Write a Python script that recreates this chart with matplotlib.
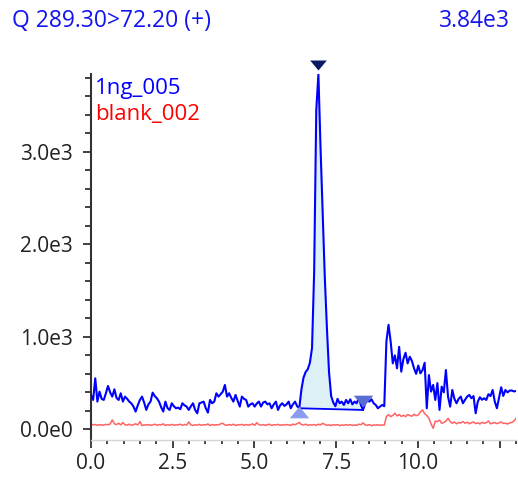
import numpy as np
import matplotlib
matplotlib.use("Agg")
import matplotlib.pyplot as plt
import matplotlib.ticker as ticker
from matplotlib.transforms import offset_copy

plt.rcParams['font.family'] = ['Open Sans', 'DejaVu Sans']

# retention time grid (min) and the two traces
times = np.linspace(0, 13.0, 201)

sample_1ng = [
    372, 318, 552, 300, 408, 330, 318, 390, 469, 400,
    354, 433, 340, 318, 390, 300, 354, 330, 300, 280,
    246, 192, 260, 318, 354, 290, 210, 270, 300, 397,
    360, 336, 300, 240, 192, 300, 230, 210, 282, 250,
    228, 235, 218, 282, 260, 246, 210, 250, 282, 210,
    174, 282, 290, 300, 230, 181, 318, 282, 300, 390,
    354, 380, 408, 480, 354, 390, 340, 300, 372, 310,
    246, 354, 330, 318, 246, 270, 282, 246, 280, 300,
    246, 290, 300, 270, 282, 228, 270, 300, 210, 260,
    282, 253, 270, 300, 228, 270, 300, 250, 228, 430,
    560, 620, 650, 720, 880, 1700, 3450, 3840, 3050, 2350,
    1650, 1100, 620, 360, 290, 250, 330, 282, 300, 264,
    318, 282, 325, 270, 300, 282, 340, 264, 210, 280,
    318, 300, 325, 282, 264, 228, 246, 264, 250, 950,
    1130, 950, 713, 800, 660, 892, 624, 760, 828, 713,
    785, 740, 660, 600, 690, 605, 640, 720, 228, 587,
    408, 480, 318, 500, 210, 462, 400, 641, 354, 246,
    426, 330, 282, 330, 354, 282, 320, 354, 372, 336,
    360, 174, 300, 347, 320, 336, 318, 380, 360, 426,
    300, 228, 340, 455, 361, 426, 400, 419, 420, 410,
    415,
]

blank_002 = [
    60, 48, 52, 44, 50, 48, 46, 54, 50, 58,
    102, 60, 52, 66, 48, 74, 50, 46, 56, 44,
    50, 60, 48, 84, 40, 50, 46, 52, 44, 48,
    56, 44, 52, 48, 60, 42, 50, 46, 54, 44,
    50, 48, 56, 44, 52, 46, 80, 48, 42, 50,
    46, 54, 44, 50, 48, 58, 42, 52, 46, 50,
    48, 60, 66, 48, 44, 52, 46, 56, 42, 50,
    48, 54, 44, 52, 46, 50, 60, 44, 72, 50,
    46, 52, 44, 50, 56, 42, 50, 48, 54, 44,
    50, 46, 52, 48, 44, 56, 50, 62, 74, 52,
    48, 56, 44, 50, 46, 52, 44, 56, 48, 66,
    54, 44, 48, 42, 50, 46, 52, 40, 48, 44,
    50, 46, 52, 42, 48, 44, 56, 50, 70, 48,
    44, 52, 40, 48, 46, 50, 44, 48, 46, 138,
    160, 138, 150, 174, 146, 160, 140, 152, 138, 160,
    150, 142, 164, 148, 156, 190, 210, 170, 150, 120,
    60, 12, 90, 84, 100, 66, 74, 90, 120, 84,
    66, 80, 60, 74, 70, 84, 66, 78, 60, 72,
    80, 62, 70, 58, 76, 66, 72, 90, 60, 68,
    74, 62, 70, 80, 64, 66, 58, 70, 74, 90,
    120,
]

# integration limits / apex (indices into times)
peak_start = 98
peak_end = 128
peak_top = 107

title_left = "Q 289.30>72.20 (+)"
title_right = "3.84e3"
x_ticks = [0, 2.5, 5.0, 7.5, 10.0, 12.5]
x_labels = ["0.0", "2.5", "5.0", "7.5", "10.0", ""]
y_ticks = [0, 1000, 2000, 3000]
y_labels = ["0.0e0", "1.0e3", "2.0e3", "3.0e3"]

blue = np.array(sample_1ng, dtype=float)
red = np.array(blank_002, dtype=float)

fig = plt.figure(figsize=(5.18, 4.8), dpi=100)
ax = fig.add_axes([0.1757, 0.0833, 0.8205, 0.7625])

# peak area under the trace, above the drawn baseline
seg_t = times[peak_start:peak_end + 1]
seg_y = blue[peak_start:peak_end + 1]
base = np.interp(seg_t, [times[peak_start], times[peak_end]],
                 [blue[peak_start], blue[peak_end]])
ax.fill_between(seg_t, base, seg_y, color='#dcf0f5', lw=0, zorder=1)

ax.plot(times, red, color='#ff6262', lw=1.1, zorder=2)
ax.plot(times, blue, color='#0000ff', lw=1.5, zorder=3)
ax.plot([times[peak_start], times[peak_end]], [blue[peak_start], blue[peak_end]],
        color='#0000ff', lw=1.3, zorder=3)

up_tri = [(-1, -0.6), (1, -0.6), (0, 0.6)]
down_tri = [(-1, 0.6), (1, 0.6), (0, -0.6)]
ax.plot(times[peak_start], blue[peak_start], marker=up_tri, ms=14, color='#8a9cf0',
        mec='none', clip_on=False, zorder=4,
        transform=offset_copy(ax.transData, fig=fig, y=-2.5, units='points'))
ax.plot(times[peak_end], blue[peak_end], marker=down_tri, ms=14, color='#5a6cd4',
        mec='none', clip_on=False, zorder=4,
        transform=offset_copy(ax.transData, fig=fig, y=6.5, units='points'))
ax.plot(times[peak_top], blue[peak_top], marker=down_tri, ms=12, color='#0c1a66',
        mec='none', clip_on=False, zorder=5,
        transform=offset_copy(ax.transData, fig=fig, y=6.2, units='points'))

ax.set_xlim(0, 13.0)
ax.set_ylim(-115, 3840)

ax.set_xticks(x_ticks, x_labels)
ax.xaxis.set_minor_locator(ticker.MultipleLocator(0.5))
ax.set_yticks(y_ticks, y_labels)
ax.yaxis.set_minor_locator(ticker.MultipleLocator(200))

ax.tick_params(axis='both', which='major', labelsize=15, colors='#333333',
               labelcolor='#222222', width=1.3, direction='out')
ax.tick_params(axis='x', which='major', length=6)
ax.tick_params(axis='x', which='minor', length=3, width=1.3, colors='#333333')
ax.tick_params(axis='y', which='major', length=6, pad=7)
ax.tick_params(axis='y', which='minor', length=4.5, width=1.3, colors='#333333')

for s in ['top', 'right']:
    ax.spines[s].set_visible(False)
ax.spines['left'].set_color('#333333')
ax.spines['left'].set_linewidth(1.5)
ax.spines['bottom'].set_color('#d4d4d4')
ax.spines['bottom'].set_linewidth(1.0)

ax.text(0.0094, 0.9445, "1ng_005", color='#0000ff', fontsize=16,
        transform=ax.transAxes, va='baseline', ha='left')
ax.text(0.0094, 0.874, "blank_002", color='#ff0000', fontsize=16,
        transform=ax.transAxes, va='baseline', ha='left')

fig.text(0.023, 0.943, title_left, color='#1414ee', fontsize=16.5, va='baseline', ha='left')
fig.text(0.9846, 0.943, title_right, color='#1414ee', fontsize=16.5, va='baseline', ha='right')

fig.savefig("out.png", dpi=100)
